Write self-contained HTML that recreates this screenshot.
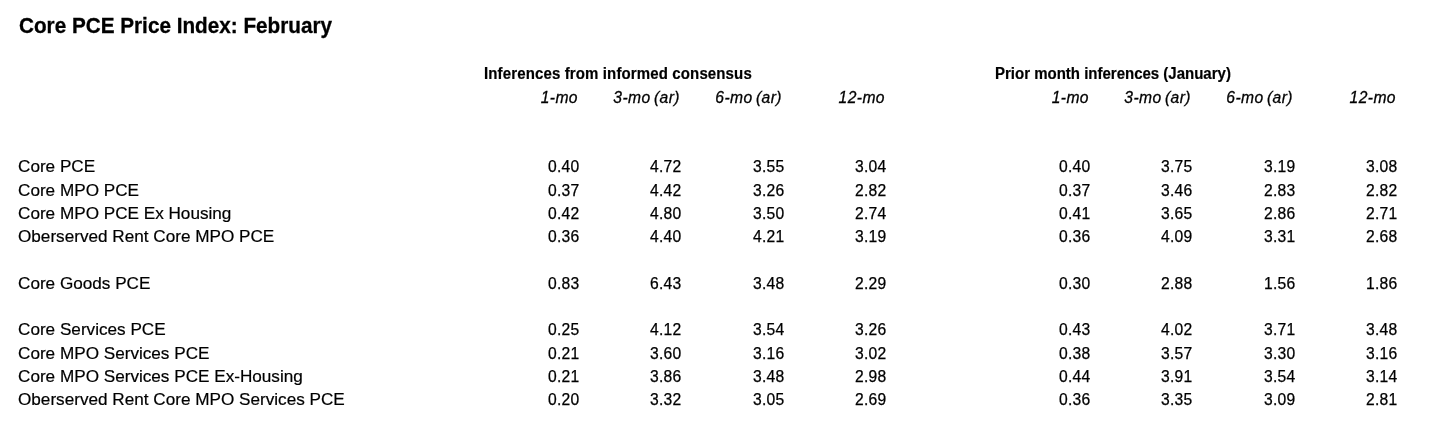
<!DOCTYPE html>
<html><head><meta charset="utf-8"><title>Core PCE Price Index: February</title>
<style>
html,body{margin:0;padding:0;background:#fff;}
body{width:1429px;height:431px;position:relative;overflow:hidden;font-family:"Liberation Sans",sans-serif;color:#000;}
.t{position:absolute;white-space:nowrap;line-height:24px;height:24px;}
.title{left:19.1px;top:13.5px;font-size:21.4px;font-weight:bold;transform-origin:left bottom;transform:scaleX(0.968);-webkit-text-stroke:0.3px #000;}
.lab{left:18px;font-size:17.15px;-webkit-text-stroke:0.2px #000;}
.num{font-size:15.65px;text-align:right;width:80px;letter-spacing:0.27px;margin-right:-0.27px;-webkit-text-stroke:0.25px #000;}
.gh{font-size:16px;font-weight:bold;letter-spacing:0.14px;transform-origin:left bottom;transform:scaleX(0.9375);-webkit-text-stroke:0.2px #000;}
.ch{font-size:16px;font-style:italic;text-align:right;width:100px;letter-spacing:0.43px;word-spacing:-1.4px;transform-origin:right center;transform:scaleX(0.977);-webkit-text-stroke:0.3px #000;}
</style></head><body>
<div class="t title">Core PCE Price Index: February</div>
<div class="t gh" style="left:484px;top:62px">Inferences from informed consensus</div>
<div class="t gh" style="left:995px;top:62px;letter-spacing:0px">Prior month inferences (January)</div>
<div class="t ch" style="left:478.2px;top:86px">1-mo</div>
<div class="t ch" style="left:579.6px;top:86px">3-mo (ar)</div>
<div class="t ch" style="left:681.8px;top:86px">6-mo (ar)</div>
<div class="t ch" style="left:784.8px;top:86px">12-mo</div>
<div class="t ch" style="left:989.2px;top:86px">1-mo</div>
<div class="t ch" style="left:1090.6px;top:86px">3-mo (ar)</div>
<div class="t ch" style="left:1192.8px;top:86px">6-mo (ar)</div>
<div class="t ch" style="left:1295.8px;top:86px">12-mo</div>
<div class="t lab" style="top:154.11px">Core PCE</div>
<div class="t num" style="left:499.5px;top:154.63px">0.40</div>
<div class="t num" style="left:601.5px;top:154.63px">4.72</div>
<div class="t num" style="left:704.5px;top:154.63px">3.55</div>
<div class="t num" style="left:806.5px;top:154.63px">3.04</div>
<div class="t num" style="left:1010.5px;top:154.63px">0.40</div>
<div class="t num" style="left:1112.5px;top:154.63px">3.75</div>
<div class="t num" style="left:1215.5px;top:154.63px">3.19</div>
<div class="t num" style="left:1317.5px;top:154.63px">3.08</div>
<div class="t lab" style="top:178.11px">Core MPO PCE</div>
<div class="t num" style="left:499.5px;top:178.63px">0.37</div>
<div class="t num" style="left:601.5px;top:178.63px">4.42</div>
<div class="t num" style="left:704.5px;top:178.63px">3.26</div>
<div class="t num" style="left:806.5px;top:178.63px">2.82</div>
<div class="t num" style="left:1010.5px;top:178.63px">0.37</div>
<div class="t num" style="left:1112.5px;top:178.63px">3.46</div>
<div class="t num" style="left:1215.5px;top:178.63px">2.83</div>
<div class="t num" style="left:1317.5px;top:178.63px">2.82</div>
<div class="t lab" style="top:201.11px">Core MPO PCE Ex Housing</div>
<div class="t num" style="left:499.5px;top:201.63px">0.42</div>
<div class="t num" style="left:601.5px;top:201.63px">4.80</div>
<div class="t num" style="left:704.5px;top:201.63px">3.50</div>
<div class="t num" style="left:806.5px;top:201.63px">2.74</div>
<div class="t num" style="left:1010.5px;top:201.63px">0.41</div>
<div class="t num" style="left:1112.5px;top:201.63px">3.65</div>
<div class="t num" style="left:1215.5px;top:201.63px">2.86</div>
<div class="t num" style="left:1317.5px;top:201.63px">2.71</div>
<div class="t lab" style="top:224.11px">Oberserved Rent Core MPO PCE</div>
<div class="t num" style="left:499.5px;top:224.63px">0.36</div>
<div class="t num" style="left:601.5px;top:224.63px">4.40</div>
<div class="t num" style="left:704.5px;top:224.63px">4.21</div>
<div class="t num" style="left:806.5px;top:224.63px">3.19</div>
<div class="t num" style="left:1010.5px;top:224.63px">0.36</div>
<div class="t num" style="left:1112.5px;top:224.63px">4.09</div>
<div class="t num" style="left:1215.5px;top:224.63px">3.31</div>
<div class="t num" style="left:1317.5px;top:224.63px">2.68</div>
<div class="t lab" style="top:271.11px">Core Goods PCE</div>
<div class="t num" style="left:499.5px;top:271.63px">0.83</div>
<div class="t num" style="left:601.5px;top:271.63px">6.43</div>
<div class="t num" style="left:704.5px;top:271.63px">3.48</div>
<div class="t num" style="left:806.5px;top:271.63px">2.29</div>
<div class="t num" style="left:1010.5px;top:271.63px">0.30</div>
<div class="t num" style="left:1112.5px;top:271.63px">2.88</div>
<div class="t num" style="left:1215.5px;top:271.63px">1.56</div>
<div class="t num" style="left:1317.5px;top:271.63px">1.86</div>
<div class="t lab" style="top:317.11px">Core Services PCE</div>
<div class="t num" style="left:499.5px;top:317.63px">0.25</div>
<div class="t num" style="left:601.5px;top:317.63px">4.12</div>
<div class="t num" style="left:704.5px;top:317.63px">3.54</div>
<div class="t num" style="left:806.5px;top:317.63px">3.26</div>
<div class="t num" style="left:1010.5px;top:317.63px">0.43</div>
<div class="t num" style="left:1112.5px;top:317.63px">4.02</div>
<div class="t num" style="left:1215.5px;top:317.63px">3.71</div>
<div class="t num" style="left:1317.5px;top:317.63px">3.48</div>
<div class="t lab" style="top:341.11px">Core MPO Services PCE</div>
<div class="t num" style="left:499.5px;top:341.63px">0.21</div>
<div class="t num" style="left:601.5px;top:341.63px">3.60</div>
<div class="t num" style="left:704.5px;top:341.63px">3.16</div>
<div class="t num" style="left:806.5px;top:341.63px">3.02</div>
<div class="t num" style="left:1010.5px;top:341.63px">0.38</div>
<div class="t num" style="left:1112.5px;top:341.63px">3.57</div>
<div class="t num" style="left:1215.5px;top:341.63px">3.30</div>
<div class="t num" style="left:1317.5px;top:341.63px">3.16</div>
<div class="t lab" style="top:364.11px">Core MPO Services PCE Ex-Housing</div>
<div class="t num" style="left:499.5px;top:364.63px">0.21</div>
<div class="t num" style="left:601.5px;top:364.63px">3.86</div>
<div class="t num" style="left:704.5px;top:364.63px">3.48</div>
<div class="t num" style="left:806.5px;top:364.63px">2.98</div>
<div class="t num" style="left:1010.5px;top:364.63px">0.44</div>
<div class="t num" style="left:1112.5px;top:364.63px">3.91</div>
<div class="t num" style="left:1215.5px;top:364.63px">3.54</div>
<div class="t num" style="left:1317.5px;top:364.63px">3.14</div>
<div class="t lab" style="top:387.11px">Oberserved Rent Core MPO Services PCE</div>
<div class="t num" style="left:499.5px;top:387.63px">0.20</div>
<div class="t num" style="left:601.5px;top:387.63px">3.32</div>
<div class="t num" style="left:704.5px;top:387.63px">3.05</div>
<div class="t num" style="left:806.5px;top:387.63px">2.69</div>
<div class="t num" style="left:1010.5px;top:387.63px">0.36</div>
<div class="t num" style="left:1112.5px;top:387.63px">3.35</div>
<div class="t num" style="left:1215.5px;top:387.63px">3.09</div>
<div class="t num" style="left:1317.5px;top:387.63px">2.81</div>
</body></html>
